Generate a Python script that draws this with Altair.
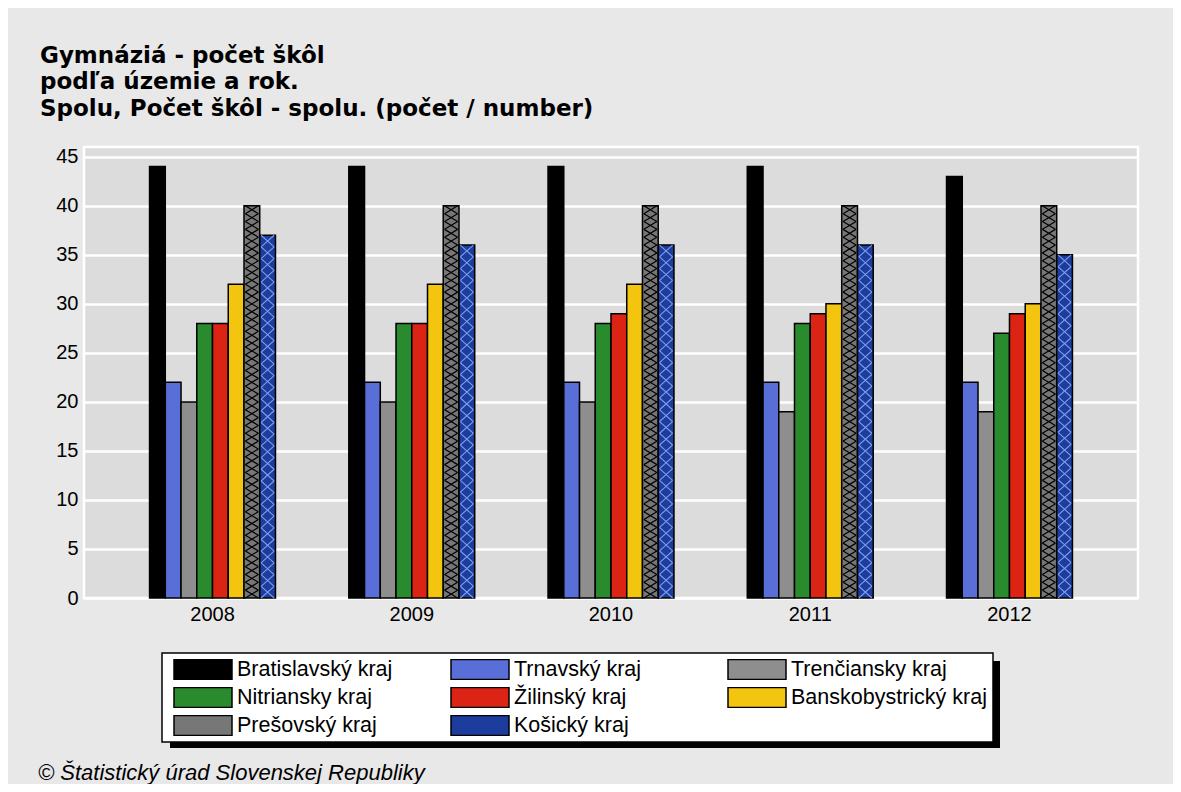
import altair as alt
import pandas as pd

# ---- data ----
years = ["2008", "2009", "2010", "2011", "2012"]
regions = [
    "Bratislavský kraj", "Trnavský kraj", "Trenčiansky kraj",
    "Nitriansky kraj", "Žilinský kraj", "Banskobystrický kraj",
    "Prešovský kraj", "Košický kraj",
]
bratislavsky = [44, 44, 44, 44, 43]
trnavsky = [22, 22, 22, 22, 22]
trenciansky = [20, 20, 20, 19, 19]
nitriansky = [28, 28, 28, 28, 27]
zilinsky = [28, 28, 29, 29, 29]
banskobystricky = [32, 32, 32, 30, 30]
presovsky = [40, 40, 40, 40, 40]
kosicky = [37, 36, 36, 36, 35]
y_ticks = [0, 5, 10, 15, 20, 25, 30, 35, 40, 45]

title_lines = [
    "Gymnáziá - počet škôl",
    "podľa územie a rok.",
    "Spolu, Počet škôl - spolu. (počet / number)",
]
footer = "© Štatistický úrad Slovenskej Republiky"

colors = ["#000000", "#5a6ed8", "#8e8e8e", "#2a8a2e", "#dc2414",
          "#f3c50f", "#777777", "#1c3c9e"]

series = [bratislavsky, trnavsky, trenciansky, nitriansky, zilinsky,
          banskobystricky, presovsky, kosicky]
rows = []
for reg, vals in zip(regions, series):
    for yr, v in zip(years, vals):
        rows.append({"rok": yr, "kraj": reg, "pocet": v})
df = pd.DataFrame(rows)


# hatch pattern helper rows (decoration only, positioned by the scales)
def hatch_rows(reg, vals, target):
    out = []
    for yr, v in zip(years, vals):
        n = max(1, round(v / target))
        step = v / n
        for k in range(n):
            out.append({"rok": yr, "kraj": reg, "yc": (k + 0.5) * step})
    return pd.DataFrame(out)


pres_pat = hatch_rows("Prešovský kraj", presovsky, 0.8)
kos_pat = hatch_rows("Košický kraj", kosicky, 1.2)

FONT = "Liberation Sans"

x_enc = alt.X(
    "rok:N", sort=years,
    scale=alt.Scale(domain=years, paddingInner=0.368, paddingOuter=0.329),
    axis=alt.Axis(title=None, labelAngle=0, labelFont=FONT, labelFontSize=20,
                  labelColor="black", labelPadding=6, domain=False,
                  ticks=False, grid=False),
)
xoff_enc = alt.XOffset(
    "kraj:N", sort=regions,
    scale=alt.Scale(domain=regions, paddingInner=0, paddingOuter=0),
)
y_scale = alt.Scale(domain=[0, 46], nice=False, zero=True)

bars = alt.Chart(df).mark_bar(stroke="black", strokeWidth=1.5).encode(
    x=x_enc,
    xOffset=xoff_enc,
    y=alt.Y(
        "pocet:Q", scale=y_scale,
        axis=alt.Axis(title=None, values=y_ticks, grid=True, gridColor="white",
                      gridWidth=2.5, gridOpacity=1, domain=False, ticks=False,
                      labelFont=FONT, labelFontSize=20, labelColor="black",
                      labelPadding=6),
    ),
    color=alt.Color(
        "kraj:N", sort=regions,
        scale=alt.Scale(domain=regions, range=colors),
        legend=alt.Legend(
            title=None, orient="none", legendX=78, legendY=506,
            direction="horizontal", columns=3,
            symbolType="M-1,-0.345H1V0.345H-1Z", symbolSize=3364,
            symbolStrokeColor="black", symbolStrokeWidth=1.5,
            symbolOpacity=1, symbolOffset=5, clipHeight=21,
            labelFont=FONT, labelFontSize=21.5, labelLimit=400,
            labelColor="black", labelOffset=4, columnPadding=12,
            rowPadding=6, padding=6, fillColor="white",
            strokeColor="black",
        ),
    ),
    tooltip=["rok:N", "kraj:N", "pocet:Q"],
)

pres_layer = alt.Chart(pres_pat).mark_point(
    filled=False, stroke="black", strokeWidth=1.2, opacity=1,
    shape="M-1,-0.6L1,0.6M1,-0.6L-1,0.6", size=169,
).encode(x=alt.X("rok:N", sort=years), xOffset=alt.XOffset("kraj:N"),
         y=alt.Y("yc:Q"))

kos_layer = alt.Chart(kos_pat).mark_point(
    filled=False, stroke="#7f9ee8", strokeWidth=1.1, opacity=1,
    shape="M-1,-0.9L1,0.9M1,-0.9L-1,0.9", size=169,
).encode(x=alt.X("rok:N", sort=years), xOffset=alt.XOffset("kraj:N"),
         y=alt.Y("yc:Q"))

shadow = alt.Chart(pd.DataFrame({"k": [1]})).mark_rect(color="black").encode(
    x=alt.value(86), x2=alt.value(916), y=alt.value(514), y2=alt.value(601)
)

foot = alt.Chart(pd.DataFrame({"t": [footer]})).mark_text(
    font=FONT, fontStyle="italic", fontSize=22, align="left",
    baseline="middle", color="black",
).encode(text="t:N", x=alt.value(-46), y=alt.value(626))

chart = alt.layer(shadow, bars, pres_layer, kos_layer, foot).properties(
    width=1054, height=451,
    title=alt.TitleParams(
        text=title_lines, anchor="start", frame="group", dx=-44,
        font="DejaVu Sans", fontWeight="bold", fontSize=23, lineHeight=26.5,
        color="black", offset=26,
    ),
    autosize=alt.AutoSizeParams(type="none"),
    padding={"left": 76, "top": 139, "right": 35, "bottom": 186},
    background="#e8e8e8",
).configure_view(
    fill="#dcdcdc", stroke="white", strokeWidth=2.5
).configure_legend(
    strokeWidth=1.5, gridAlign="all"
)

chart.save("out.html", embed_options={"renderer": "svg", "actions": False})
